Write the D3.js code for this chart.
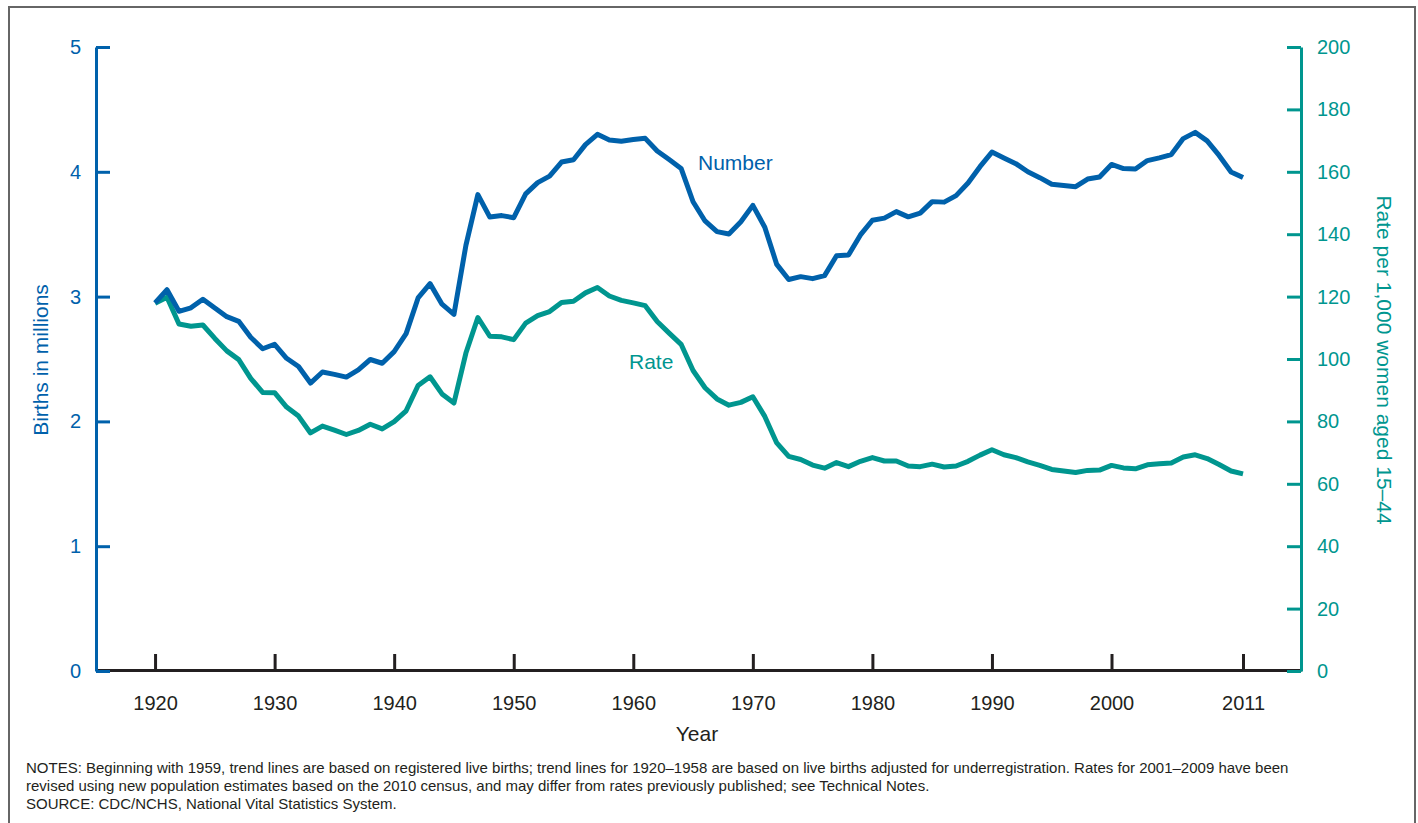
<!DOCTYPE html>
<html><head><meta charset="utf-8">
<script src="https://cdn.jsdelivr.net/npm/d3@7"></script>
<style>body{margin:0;background:#fff;}svg{display:block;font-family:"Liberation Sans",Arial,sans-serif;}</style>
</head><body><svg id="c" width="1418" height="823"></svg>
<script>
const years = d3.range(1920, 2012);
const birthsMillions = [2.950,3.055,2.882,2.910,2.979,2.909,2.839,2.802,2.674,2.582,2.618,2.506,2.440,2.307,2.396,2.377,2.355,2.413,2.496,2.466,
2.559,2.703,2.989,3.104,2.939,2.858,3.411,3.817,3.637,3.649,3.632,3.823,3.913,3.965,4.078,4.097,4.218,4.300,4.255,4.245,
4.258,4.268,4.167,4.098,4.027,3.760,3.606,3.521,3.502,3.600,3.731,3.556,3.258,3.137,3.160,3.144,3.168,3.327,3.333,3.494,
3.612,3.629,3.681,3.639,3.669,3.761,3.757,3.809,3.910,4.041,4.158,4.111,4.065,4.000,3.953,3.900,3.891,3.881,3.942,3.959,
4.059,4.026,4.022,4.090,4.112,4.138,4.266,4.316,4.248,4.131,3.999,3.954];
const fertilityRate = [117.9,119.8,111.2,110.5,110.9,106.6,102.6,99.8,93.8,89.3,89.2,84.6,81.7,76.3,78.5,77.2,75.8,77.1,79.1,77.6,
79.9,83.4,91.5,94.3,88.8,85.9,101.9,113.3,107.3,107.1,106.2,111.5,113.9,115.2,118.1,118.5,121.2,122.9,120.2,118.8,
118.0,117.1,112.0,108.3,104.7,96.3,90.8,87.2,85.2,86.1,87.9,81.6,73.1,68.8,67.8,66.0,65.0,66.8,65.5,67.2,
68.4,67.3,67.3,65.7,65.5,66.3,65.4,65.7,67.2,69.2,70.9,69.3,68.4,67.0,65.9,64.6,64.1,63.6,64.3,64.4,
65.9,65.1,64.8,66.1,66.4,66.7,68.6,69.3,68.1,66.2,64.1,63.2];
const xTicks = [1920,1930,1940,1950,1960,1970,1980,1990,2000,2011];
const leftTicks = [0,1,2,3,4,5];
const rightTicks = [0,20,40,60,80,100,120,140,160,180,200];
const notes = [
 "NOTES: Beginning with 1959, trend lines are based on registered live births; trend lines for 1920\u20131958 are based on live births adjusted for underregistration. Rates for 2001\u20132009 have been",
 "revised using new population estimates based on the 2010 census, and may differ from rates previously published; see Technical Notes.",
 "SOURCE: CDC/NCHS, National Vital Statistics System."
];

const BLUE="#0061ab", TEAL="#00968f", DARK="#231f20";
const FONT="Liberation Sans, Arial, sans-serif";
const svg=d3.select("#c");
svg.append("rect").attr("x",9).attr("y",7).attr("width",1406).attr("height",830).attr("fill","none").attr("stroke","#666").attr("stroke-width",2);

const L=96,R=1301,T=47,B=671;
const x=d3.scaleLinear().domain([1915.06,2015.85]).range([L,R]);
const yL=d3.scaleLinear().domain([0,5]).range([B,T]);
const yR=d3.scaleLinear().domain([0,200]).range([B,T]);

// x axis
const gx=svg.append("g").attr("transform",`translate(0,${B-1})`)
 .call(d3.axisBottom(x).tickValues(xTicks).tickFormat(d3.format("d")).tickSize(-16).tickPadding(26).tickSizeOuter(0));
gx.select(".domain").attr("stroke",DARK).attr("stroke-width",3);
gx.selectAll(".tick line").attr("stroke",DARK).attr("stroke-width",3);
gx.selectAll(".tick text").attr("fill",DARK).attr("font-size",20).attr("font-family",FONT);

// left axis
const gl=svg.append("g").attr("transform",`translate(${L},0)`)
 .call(d3.axisLeft(yL).tickValues(leftTicks).tickFormat(d3.format("d")).tickSize(-14).tickPadding(15).tickSizeOuter(0));
gl.select(".domain").attr("stroke",BLUE).attr("stroke-width",3);
gl.selectAll(".tick line").attr("stroke",BLUE).attr("stroke-width",3);
gl.selectAll(".tick text").attr("fill",BLUE).attr("font-size",20).attr("font-family",FONT);

// right axis
const gr=svg.append("g").attr("transform",`translate(${R},0)`)
 .call(d3.axisRight(yR).tickValues(rightTicks).tickFormat(d3.format("d")).tickSize(-14).tickPadding(16).tickSizeOuter(0));
gr.select(".domain").attr("stroke",TEAL).attr("stroke-width",3);
gr.selectAll(".tick line").attr("stroke",TEAL).attr("stroke-width",3);
gr.selectAll(".tick text").attr("fill",TEAL).attr("font-size",20).attr("font-family",FONT);

// lines
const lineL=d3.line().x((d,i)=>x(years[i])).y(d=>yL(d));
const lineR=d3.line().x((d,i)=>x(years[i])).y(d=>yR(d));
svg.append("path").datum(fertilityRate).attr("d",lineR).attr("fill","none").attr("stroke",TEAL).attr("stroke-width",5).attr("stroke-linejoin","round");
svg.append("path").datum(birthsMillions).attr("d",lineL).attr("fill","none").attr("stroke",BLUE).attr("stroke-width",5).attr("stroke-linejoin","round");

// labels
svg.append("text").attr("x",698).attr("y",170).attr("fill",BLUE).attr("font-size",21).text("Number");
svg.append("text").attr("x",629).attr("y",369).attr("fill",TEAL).attr("font-size",21).text("Rate");
svg.append("text").attr("x",697).attr("y",741).attr("text-anchor","middle").attr("fill",DARK).attr("font-size",21).text("Year");
svg.append("text").attr("transform","translate(48,360) rotate(-90)").attr("text-anchor","middle").attr("fill",BLUE).attr("font-size",21).text("Births in millions");
svg.append("text").attr("transform","translate(1377,360) rotate(90)").attr("text-anchor","middle").attr("fill",TEAL).attr("font-size",21).text("Rate per 1,000 women aged 15\u201344");

svg.append("g").selectAll("text").data(notes).join("text")
 .attr("x",26).attr("y",(d,i)=>773+i*18).attr("fill",DARK).attr("font-size",15).attr("font-family",FONT).text(d=>d);
</script></body></html>
